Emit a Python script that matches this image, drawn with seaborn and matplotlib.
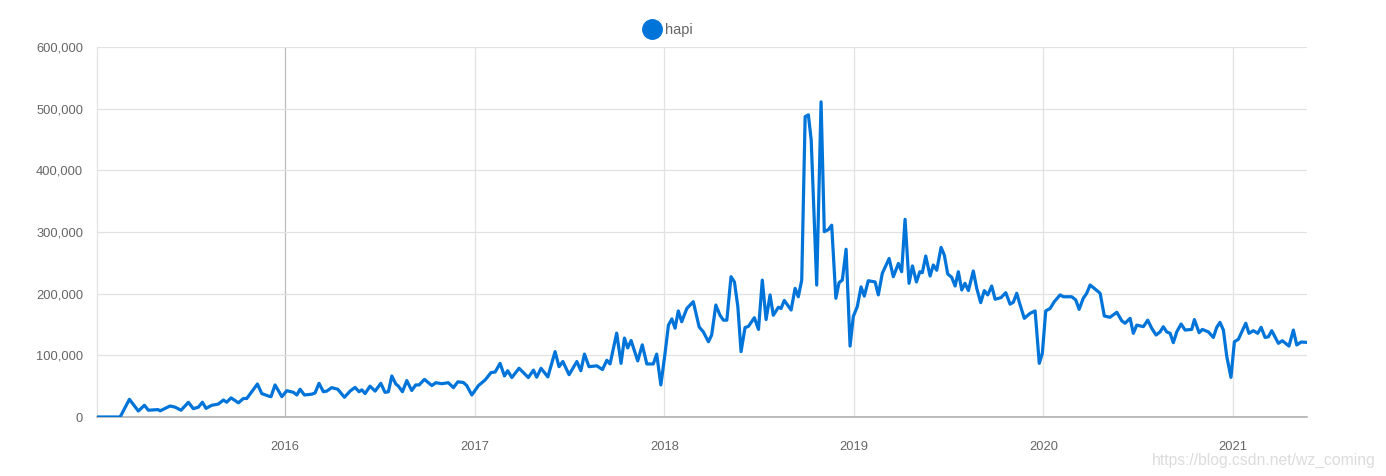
import matplotlib
matplotlib.use("Agg")
import matplotlib.pyplot as plt
from matplotlib.lines import Line2D
import seaborn as sns
import pandas as pd
import numpy as np

package = "hapi"

# decimal year of each sample
years = [
    2015.008, 2015.130, 2015.179, 2015.226, 2015.258, 2015.279, 2015.330, 2015.341, 2015.393, 2015.420,
    2015.451, 2015.490, 2015.516, 2015.543, 2015.564, 2015.583, 2015.613, 2015.648, 2015.675, 2015.692,
    2015.715, 2015.754, 2015.780, 2015.798, 2015.824, 2015.854, 2015.877, 2015.912, 2015.926, 2015.947,
    2015.983, 2016.009, 2016.044, 2016.062, 2016.079, 2016.102, 2016.141, 2016.158, 2016.179, 2016.202,
    2016.220, 2016.246, 2016.278, 2016.313, 2016.343, 2016.369, 2016.390, 2016.405, 2016.422, 2016.448,
    2016.475, 2016.505, 2016.527, 2016.545, 2016.563, 2016.584, 2016.598, 2016.619, 2016.642, 2016.668,
    2016.689, 2016.707, 2016.735, 2016.774, 2016.795, 2016.826, 2016.861, 2016.888, 2016.911, 2016.940,
    2016.958, 2016.985, 2017.020, 2017.055, 2017.086, 2017.108, 2017.134, 2017.157, 2017.174, 2017.196,
    2017.234, 2017.283, 2017.310, 2017.327, 2017.350, 2017.386, 2017.424, 2017.445, 2017.465, 2017.498,
    2017.539, 2017.560, 2017.579, 2017.603, 2017.644, 2017.674, 2017.697, 2017.714, 2017.749, 2017.772,
    2017.790, 2017.807, 2017.825, 2017.860, 2017.884, 2017.908, 2017.942, 2017.960, 2017.982, 2018.004,
    2018.022, 2018.040, 2018.057, 2018.074, 2018.092, 2018.119, 2018.153, 2018.184, 2018.206, 2018.233,
    2018.250, 2018.272, 2018.294, 2018.312, 2018.330, 2018.352, 2018.370, 2018.388, 2018.405, 2018.426,
    2018.444, 2018.475, 2018.497, 2018.517, 2018.537, 2018.558, 2018.575, 2018.602, 2018.616, 2018.633,
    2018.669, 2018.690, 2018.707, 2018.725, 2018.743, 2018.760, 2018.775, 2018.804, 2018.827, 2018.844,
    2018.866, 2018.883, 2018.905, 2018.922, 2018.939, 2018.959, 2018.980, 2018.997, 2019.018, 2019.038,
    2019.055, 2019.076, 2019.112, 2019.129, 2019.150, 2019.186, 2019.208, 2019.235, 2019.252, 2019.270,
    2019.291, 2019.309, 2019.330, 2019.348, 2019.361, 2019.379, 2019.402, 2019.419, 2019.437, 2019.460,
    2019.477, 2019.495, 2019.516, 2019.534, 2019.551, 2019.569, 2019.586, 2019.604, 2019.630, 2019.648,
    2019.669, 2019.688, 2019.706, 2019.727, 2019.745, 2019.776, 2019.801, 2019.824, 2019.841, 2019.859,
    2019.877, 2019.899, 2019.929, 2019.956, 2019.978, 2019.994, 2020.012, 2020.035, 2020.057, 2020.088,
    2020.105, 2020.149, 2020.170, 2020.188, 2020.210, 2020.228, 2020.246, 2020.268, 2020.299, 2020.321,
    2020.351, 2020.387, 2020.413, 2020.430, 2020.457, 2020.474, 2020.492, 2020.527, 2020.550, 2020.571,
    2020.594, 2020.615, 2020.632, 2020.650, 2020.668, 2020.685, 2020.703, 2020.726, 2020.747, 2020.782,
    2020.796, 2020.821, 2020.838, 2020.870, 2020.896, 2020.914, 2020.931, 2020.949, 2020.967, 2020.989,
    2021.007, 2021.028, 2021.067, 2021.084, 2021.107, 2021.130, 2021.148, 2021.169, 2021.186, 2021.204,
    2021.239, 2021.260, 2021.295, 2021.318, 2021.336, 2021.359, 2021.390,
]

# weekly downloads, thousands
downloads_k = [
    0, 0, 28.7, 9.7, 19, 11, 12, 10, 17.8, 16,
    11, 23.8, 13.5, 16, 24, 14, 19, 21, 27.5, 24,
    31, 23, 30, 30, 41, 53.5, 38, 34, 33, 52,
    33, 42.6, 40, 35.7, 45, 35.7, 37, 39, 54.6, 41,
    42, 47.6, 45, 32, 42, 48, 41, 44, 38, 50,
    42, 54.6, 40, 41, 66.5, 53.5, 50, 41, 59, 43,
    52, 52, 61, 51, 55.6, 54, 55.6, 47.6, 57, 56,
    51, 35.7, 51, 60, 72, 73, 87, 66.5, 75, 64,
    79, 64, 76, 64.5, 79, 65, 106, 81.6, 90, 68.6,
    90, 75, 102, 81.6, 83, 77, 92, 86, 136, 87,
    128, 112, 124, 91, 117, 86, 86, 102, 52, 103,
    149, 159, 144, 172, 154.5, 176, 187, 146, 138, 122,
    133, 181.6, 165, 157, 157, 227.5, 219, 179, 106, 145,
    147, 161, 142, 222, 158, 198, 165, 178, 176, 189,
    173.5, 208.6, 195, 222, 487, 490, 449, 214, 511, 300.5,
    304, 311, 192.5, 218, 222, 272, 115, 163, 179, 211,
    196, 221, 219, 198, 233, 257, 227.5, 249, 235.6, 320.6,
    216.8, 245, 219, 235.6, 234, 261, 228.6, 246.5, 238, 275,
    262.7, 232, 226.5, 212.4, 235.6, 206, 216.8, 205, 236.8, 208.7,
    185.4, 205, 198, 212.4, 191, 193.5, 201.6, 183, 186, 200.6,
    181.6, 160, 168, 172, 87, 103, 172, 176, 187, 198,
    195, 195, 190, 174.6, 192.5, 200.6, 214, 208.6, 200.6, 163.8,
    161.7, 169.8, 156, 152, 160, 135.7, 149, 146.5, 157, 143.8,
    133, 138, 146.4, 138, 135.7, 120.5, 138, 150.8, 141, 142,
    158, 136.7, 142, 138, 129, 145.4, 153.5, 141, 97.8, 64.3,
    122, 126, 152, 135.7, 140, 135.7, 145.4, 129, 130, 140,
    119.5, 123.7, 115, 141, 116.8, 121.6, 121,
]

y_ticks = [0, 100000, 200000, 300000, 400000, 500000, 600000]
x_ticks = [2016, 2017, 2018, 2019, 2020, 2021]
x_labels = ["2016", "2017", "2018", "2019", "2020", "2021"]
watermark = "https://blog.csdn.net/wz_coming"

sns.set_style("white")
plt.rcParams['font.family'] = ['Liberation Sans', 'DejaVu Sans']

df = pd.DataFrame({
    "year": years,
    "downloads": np.array(downloads_k) * 1000.0,
    "package": package,
})

W, H = 1386, 476
fig = plt.figure(figsize=(W / 100, H / 100), dpi=100)
ax = fig.add_axes([97 / W, 1 - 417 / H, 1210 / W, 370 / H])

line_color = "#0074D9"
grid_color = "#e2e2e2"

sns.lineplot(data=df, x="year", y="downloads", color=line_color, linewidth=2.3,
             ax=ax, legend=False, sort=True, solid_joinstyle="round", solid_capstyle="round",
             zorder=5)

ax.set_xlim(2015.008, 2021.390)
ax.set_ylim(0, 600000)
ax.set_yticks(y_ticks)
ax.set_yticklabels([f"{v:,}" for v in y_ticks])
ax.set_xticks(x_ticks)
ax.set_xticklabels(x_labels)
ax.set_xlabel("")
ax.set_ylabel("")

ax.grid(True, color=grid_color, linewidth=0.9)
ax.set_axisbelow(True)
gl = ax.xaxis.get_gridlines()
gl[0].set_color("#bcbcbc")

ax.tick_params(axis="y", length=9, width=0.9, color=grid_color, pad=1,
               labelsize=9.3, labelcolor="#666666")
ax.tick_params(axis="x", length=9, width=0.9, color=grid_color, pad=8,
               labelsize=9.3, labelcolor="#666666")

for s in ["top", "right"]:
    ax.spines[s].set_visible(False)
ax.spines["left"].set_color(grid_color)
ax.spines["left"].set_linewidth(0.9)
ax.spines["bottom"].set_color("#aaaaaa")
ax.spines["bottom"].set_linewidth(1.1)

handle = Line2D([], [], marker="o", linestyle="none", markersize=14,
                markerfacecolor=line_color, markeredgecolor=line_color)
fig.legend([handle], [package], loc="center", bbox_to_anchor=(668 / W, 1 - 30 / H),
           frameon=False, handletextpad=0.35, borderpad=0, handlelength=1.2,
           labelcolor="#666666", fontsize=10.5)

fig.text(1152 / W, 1 - 460 / H, watermark, color="#dcdcdc", fontsize=11.3,
         ha="left", va="center")

fig.savefig("out.png", dpi=100, facecolor="white")
